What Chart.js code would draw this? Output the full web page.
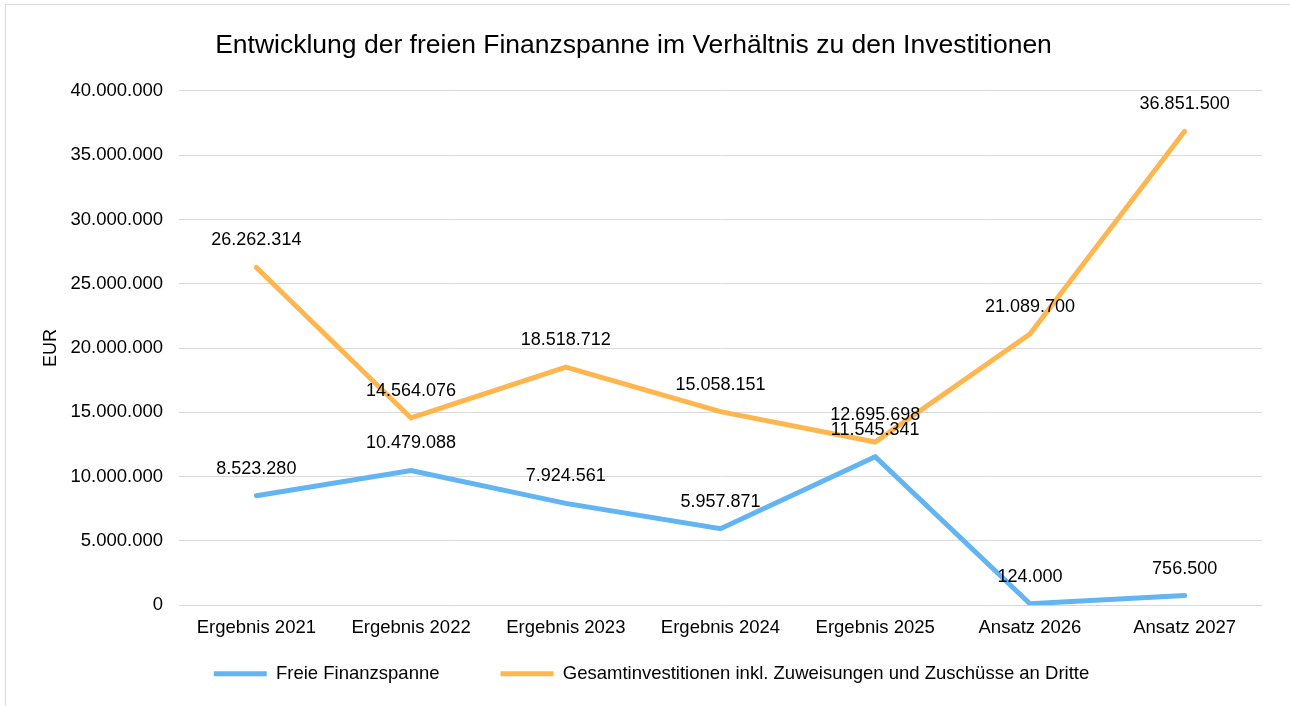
<!DOCTYPE html>
<html lang="de">
<head>
<meta charset="utf-8">
<script src="https://cdn.jsdelivr.net/npm/chart.js@4/dist/chart.umd.min.js"></script>
<style>
  html, body { margin: 0; padding: 0; background: #fff; }
  #wrap { position: relative; width: 1290px; height: 706px; overflow: hidden; }
  #frame { position: absolute; left: 5px; top: 4px; width: 1300px; height: 720px; border: 1px solid #d9d9d9; pointer-events: none; }
  canvas { position: absolute; left: 0; top: 0; }
</style>
</head>
<body>
<div id="wrap">
  <canvas id="chart" width="1290" height="706"></canvas>
  <div id="frame"></div>
</div>
<script>
const categories = ["Ergebnis 2021", "Ergebnis 2022", "Ergebnis 2023", "Ergebnis 2024", "Ergebnis 2025", "Ansatz 2026", "Ansatz 2027"];
const freieFinanzspanne = [8523280, 10479088, 7924561, 5957871, 11545341, 124000, 756500];
const gesamtinvestitionen = [26262314, 14564076, 18518712, 15058151, 12695698, 21089700, 36851500];
const yTicks = { min: 0, max: 40000000, step: 5000000 };

const FONT = "'Liberation Sans', Arial, sans-serif";
const fmt = (v) => Math.round(v).toString().replace(/\B(?=(\d{3})+(?!\d))/g, ".");

// draws the value above every point, like the data labels in the original
const valueLabels = {
  id: "valueLabels",
  afterDatasetsDraw(chart) {
    const ctx = chart.ctx;
    ctx.save();
    ctx.font = `18px ${FONT}`;
    ctx.fillStyle = "#000";
    ctx.textAlign = "center";
    ctx.textBaseline = "middle";
    chart.data.datasets.forEach((ds, i) => {
      chart.getDatasetMeta(i).data.forEach((pt, j) => {
        ctx.fillText(fmt(ds.data[j]), pt.x, pt.y - 27);
      });
    });
    ctx.restore();
  }
};

// the wide item gap needs a big legend padding; pull the legend back up under the axis
// and centre it on the plot rather than the whole canvas
const legendNudge = {
  id: "legendNudge",
  beforeDraw(chart) {
    chart.legend.top -= 40;
    chart.legend.left += 18;
    chart.legend.right += 18;
  }
};

new Chart(document.getElementById("chart"), {
  type: "line",
  data: {
    labels: categories,
    datasets: [
      { label: "Freie Finanzspanne", data: freieFinanzspanne, borderColor: "#62b4f2", backgroundColor: "#62b4f2", borderWidth: 5, borderCapStyle: "round", pointRadius: 0, tension: 0 },
      { label: "Gesamtinvestitionen inkl. Zuweisungen und Zuschüsse an Dritte", data: gesamtinvestitionen, borderColor: "#ffb64f", backgroundColor: "#ffb64f", borderWidth: 5, borderCapStyle: "round", pointRadius: 0, tension: 0 }
    ]
  },
  options: {
    responsive: false,
    animation: false,
    layout: { padding: { left: 5, right: 28, top: 26, bottom: -27 } },
    plugins: {
      title: { display: true, text: "Entwicklung der freien Finanzspanne im Verhältnis zu den Investitionen", color: "#000", font: { family: FONT, size: 26.5, weight: "normal" }, padding: { top: 4, bottom: 29 } },
      legend: {
        position: "bottom",
        labels: { color: "#000", font: { family: FONT, size: 18.5 }, usePointStyle: true, pointStyle: "line", pointStyleWidth: 53, boxHeight: 5, padding: 61 }
      },
      tooltip: { enabled: false }
    },
    scales: {
      x: {
        offset: true,
        grid: { display: false },
        border: { display: false },
        ticks: { color: "#000", font: { family: FONT, size: 18.5 }, padding: 4, maxRotation: 0 }
      },
      y: {
        min: yTicks.min,
        max: yTicks.max,
        grid: { color: "#d9d9d9", lineWidth: 1, drawTicks: false },
        border: { display: false },
        ticks: { stepSize: yTicks.step, color: "#000", font: { family: FONT, size: 18.5 }, padding: 16, callback: (v) => fmt(v) },
        title: { display: true, text: "EUR", color: "#000", font: { family: FONT, size: 18 }, padding: { top: 35, bottom: 0 } },
        afterFit: (scale) => { scale.width = 174; }
      }
    }
  },
  plugins: [valueLabels, legendNudge]
});
</script>
</body>
</html>
